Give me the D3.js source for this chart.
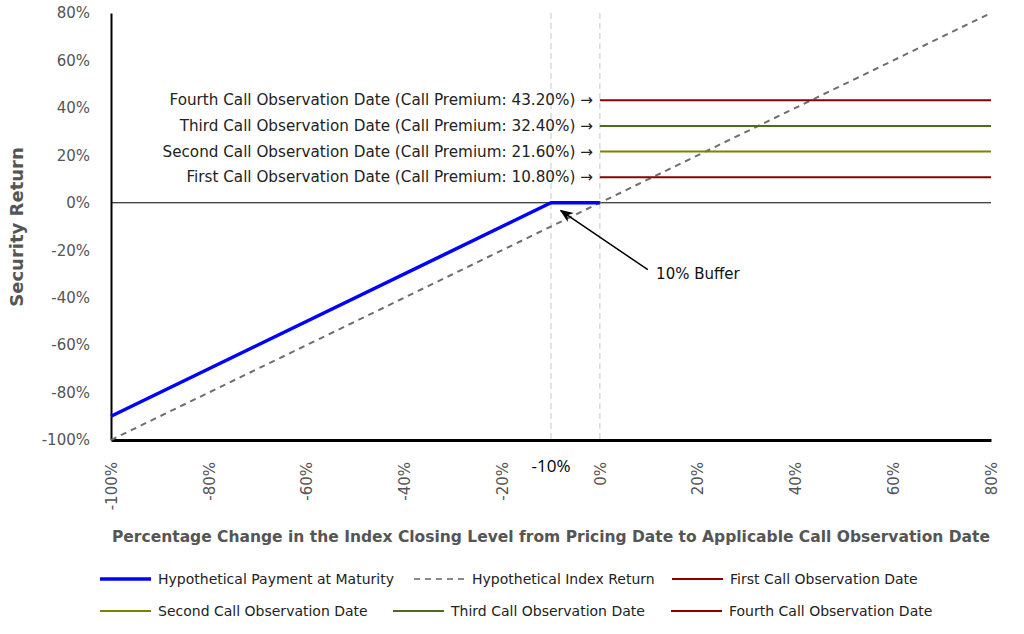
<!DOCTYPE html>
<html>
<head>
<meta charset="utf-8">
<script src="https://cdn.jsdelivr.net/npm/d3@7"></script>
<style>
  body { margin: 0; background: #fff; }
  svg { display: block; }
</style>
</head>
<body>
<div id="chart"></div>
<script>
// data
const xTicks = [-100, -80, -60, -40, -20, 0, 20, 40, 60, 80];
const yTicks = [-100, -80, -60, -40, -20, 0, 20, 40, 60, 80];
const paymentX = [-100, -10, 0];
const paymentY = [-90, 0, 0];
const indexX = [-100, 80];
const indexY = [-100, 80];
const callNames = ["First", "Second", "Third", "Fourth"];
const callPremiums = [10.80, 21.60, 32.40, 43.20];
const callColors = ["#8b0000", "#808000", "#4f6b22", "#8b0000"];
const callRange = [0, 80];
const bufferLevel = -10;
const guideLevels = [-10, 0];

const width = 1024, height = 634;
const font = "DejaVu Sans, Verdana, sans-serif";

const svg = d3.select("#chart").append("svg")
  .attr("width", width)
  .attr("height", height);

const x = d3.scaleLinear().domain([-100, 80]).range([111, 991]);
const y = d3.scaleLinear().domain([-100, 80]).range([440, 13]);

svg.append("defs").append("marker")
  .attr("id", "arrow")
  .attr("viewBox", "0 0 10 10")
  .attr("refX", 9).attr("refY", 5)
  .attr("markerWidth", 9).attr("markerHeight", 9)
  .attr("orient", "auto")
  .append("path")
  .attr("d", "M0,1 L10,5 L0,9 L3,5 Z")
  .attr("fill", "#000");

// vertical guide lines at buffer and 0%
svg.selectAll(".guide")
  .data(guideLevels)
  .enter()
  .append("line")
  .attr("x1", d => x(d)).attr("x2", d => x(d))
  .attr("y1", y(80)).attr("y2", y(-100))
  .attr("stroke", "#c8c8c8")
  .attr("stroke-width", 1)
  .attr("stroke-dasharray", "6 4");

// zero line
svg.append("line")
  .attr("x1", x(-100)).attr("x2", x(80))
  .attr("y1", y(0)).attr("y2", y(0))
  .attr("stroke", "#000")
  .attr("stroke-width", 1);

// axes
const yAxis = svg.append("g")
  .attr("transform", `translate(${x(-100)},0)`)
  .call(d3.axisLeft(y).tickValues(yTicks).tickSize(0).tickPadding(21).tickFormat(d => d + "%"));
yAxis.select(".domain").attr("stroke", "#000").attr("stroke-width", 2);
yAxis.selectAll("text")
  .attr("font-family", font).attr("font-size", 15).attr("fill", "#555");

const xAxis = svg.append("g")
  .attr("transform", `translate(0,${y(-100)})`)
  .call(d3.axisBottom(x).tickValues(xTicks).tickSize(0).tickFormat(d => d + "%"));
xAxis.select(".domain").attr("stroke", "#000").attr("stroke-width", 3);
xAxis.selectAll("text")
  .attr("font-family", font).attr("font-size", 15).attr("fill", "#555")
  .attr("transform", "rotate(-90)")
  .attr("text-anchor", "end")
  .attr("x", -22).attr("y", 0).attr("dy", "0.35em");

// index return (dashed)
const lineGen = d3.line().x(d => x(d[0])).y(d => y(d[1]));
svg.append("path")
  .datum(d3.zip(indexX, indexY))
  .attr("d", lineGen)
  .attr("fill", "none")
  .attr("stroke", "#6e6e6e")
  .attr("stroke-width", 2)
  .attr("stroke-dasharray", "6 5");

// call premium lines
svg.selectAll(".call")
  .data(callPremiums)
  .enter()
  .append("line")
  .attr("x1", x(callRange[0])).attr("x2", x(callRange[1]))
  .attr("y1", d => y(d)).attr("y2", d => y(d))
  .attr("stroke", (d, i) => callColors[i])
  .attr("stroke-width", 2);

svg.selectAll(".call-label")
  .data(callPremiums)
  .enter()
  .append("text")
  .attr("x", x(callRange[0]) - 7)
  .attr("y", d => y(d) + 5)
  .attr("text-anchor", "end")
  .attr("font-family", font).attr("font-size", 15.2).attr("fill", "#222")
  .text((d, i) => `${callNames[i]} Call Observation Date (Call Premium: ${d.toFixed(2)}%) \u2192`);

// payment at maturity
svg.append("path")
  .datum(d3.zip(paymentX, paymentY))
  .attr("d", lineGen)
  .attr("fill", "none")
  .attr("stroke", "#0000ff")
  .attr("stroke-width", 3.5);

// buffer annotation
svg.append("line")
  .attr("x1", x(9.8)).attr("y1", y(-28.2))
  .attr("x2", x(-8)).attr("y2", y(-3.3))
  .attr("stroke", "#000")
  .attr("stroke-width", 1.5)
  .attr("marker-end", "url(#arrow)");

svg.append("text")
  .attr("x", x(11.5)).attr("y", y(-32.3))
  .attr("font-family", font).attr("font-size", 15).attr("fill", "#111")
  .text("10% Buffer");

svg.append("text")
  .attr("x", x(bufferLevel)).attr("y", 472)
  .attr("text-anchor", "middle")
  .attr("font-family", "Open Sans, sans-serif").attr("font-size", 17).attr("fill", "#000")
  .text(bufferLevel + "%");

// axis titles
svg.append("text")
  .attr("x", 551).attr("y", 542)
  .attr("text-anchor", "middle")
  .attr("font-family", font).attr("font-weight", "bold").attr("font-size", 15.5).attr("fill", "#555")
  .text("Percentage Change in the Index Closing Level from Pricing Date to Applicable Call Observation Date");

svg.append("text")
  .attr("transform", `translate(23,${227}) rotate(-90)`)
  .attr("text-anchor", "middle")
  .attr("font-family", font).attr("font-weight", "bold").attr("font-size", 18).attr("fill", "#555")
  .text("Security Return");

// legend
const legendItems = [
  { name: "Hypothetical Payment at Maturity", color: "#0000ff", w: 3.5, dash: null },
  { name: "Hypothetical Index Return", color: "#8a8a8a", w: 2, dash: "6 5" }
].concat(callNames.map((n, i) => ({ name: `${n} Call Observation Date`, color: callColors[i], w: 2, dash: null })));

const legendCols = [[100, 414, 672], [100, 393, 671]];
const legend = svg.append("g");
legendItems.forEach((d, i) => {
  const col = i % 3, row = Math.floor(i / 3);
  const lx = legendCols[row][col];
  const ly = 579 + row * 32;
  const g = legend.append("g").attr("transform", `translate(${lx},${ly})`);
  g.append("line")
    .attr("x1", 0).attr("x2", 51)
    .attr("stroke", d.color)
    .attr("stroke-width", d.w)
    .attr("stroke-dasharray", d.dash);
  g.append("text")
    .attr("x", 58).attr("y", 5)
    .attr("font-family", font).attr("font-size", 14).attr("fill", "#222")
    .text(d.name);
});
</script>
</body>
</html>
